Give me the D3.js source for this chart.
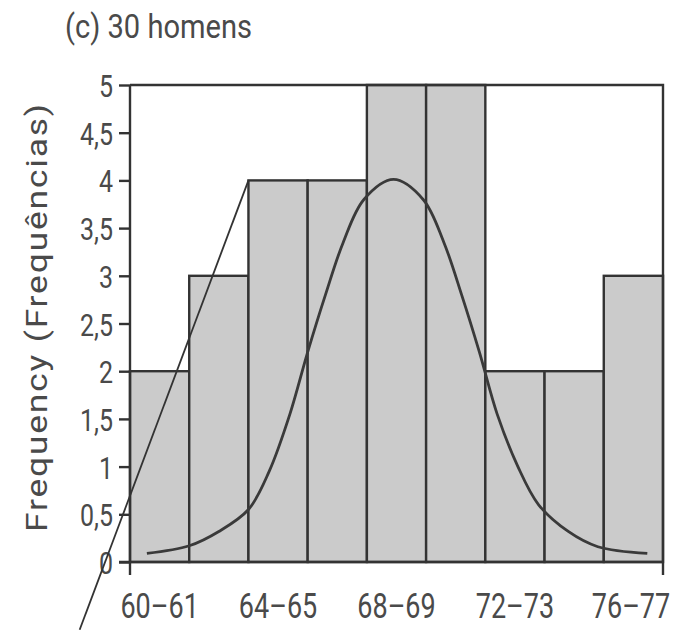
<!DOCTYPE html>
<html>
<head>
<meta charset="utf-8">
<script src="https://cdn.jsdelivr.net/npm/d3@7"></script>
<style>
  body { margin: 0; background: #fff; }
  svg text { font-family: Roboto, "DejaVu Sans", sans-serif; fill: #4a4a4a; }
</style>
</head>
<body>
<div id="chart"></div>
<script>
// bins of height (inches), 2 inches wide
const binStarts = [60, 62, 64, 66, 68, 70, 72, 74, 76];
const binLabels = ["60-61", "62-63", "64-65", "66-67", "68-69", "70-71", "72-73", "74-75", "76-77"];
const counts = [2, 3, 4, 4, 5, 5, 2, 2, 3];
const yTicks = [0, 0.5, 1, 1.5, 2, 2.5, 3, 3.5, 4, 4.5, 5];
// bell curve
const curveX = [60.57, 62.0, 63.0, 64.0, 64.7, 65.4, 66.0, 66.6, 67.2, 67.9, 68.9, 69.9, 70.6, 71.2, 71.8, 72.4, 73.1, 73.8, 74.8, 75.8, 77.47];
const curveY = [0.09, 0.17, 0.32, 0.55, 0.95, 1.55, 2.2, 2.8, 3.35, 3.8, 4.01, 3.8, 3.35, 2.8, 2.2, 1.55, 1.0, 0.6, 0.32, 0.16, 0.09];
// stray straight line from the corner of the 64-65 bar
const strayLine = [[64.0, 4.0], [58.3, -0.71]];

const width = 674, height = 630;
const svg = d3.select("#chart").append("svg")
    .attr("width", width)
    .attr("height", height);

const x = d3.scaleLinear().domain([60, 78]).range([130, 663]);
const y = d3.scaleLinear().domain([0, 5]).range([562, 85]);

// title
svg.append("text")
    .attr("x", 65)
    .attr("y", 38)
    .attr("textLength", 187)
    .attr("lengthAdjust", "spacingAndGlyphs")
    .style("font-size", "34px")
    .text("(c) 30 homens");

// y label
svg.append("text")
    .attr("transform", `translate(47, 317) rotate(-90)`)
    .attr("text-anchor", "middle")
    .attr("textLength", 430)
    .attr("lengthAdjust", "spacingAndGlyphs")
    .style("font-size", "29px")
    .style("letter-spacing", "1.5px")
    .text("Frequency (Frequências)");

// bars
svg.append("g")
    .selectAll("rect")
    .data(counts)
    .enter()
    .append("rect")
    .attr("x", (d, i) => x(binStarts[i]))
    .attr("y", d => y(d))
    .attr("width", (d, i) => x(binStarts[i] + 2) - x(binStarts[i]))
    .attr("height", d => y(0) - y(d))
    .style("fill", "#cbcbcb")
    .style("stroke", "#333")
    .style("stroke-width", 2.4);

// frame (top and right)
svg.append("path")
    .attr("d", `M${x(60)},${y(5)}H${x(78)}V${y(0)}`)
    .style("fill", "none")
    .style("stroke", "#333")
    .style("stroke-width", 2.4);

// y axis
const yAxis = d3.axisLeft(y)
    .tickValues(yTicks)
    .tickSize(11)
    .tickPadding(6)
    .tickFormat(d => String(d).replace(".", ","));
const gy = svg.append("g")
    .attr("transform", `translate(${x(60)},0)`)
    .call(yAxis);
gy.select(".domain").remove();
gy.append("line")
    .attr("y1", y(5)).attr("y2", y(0))
    .attr("stroke", "#333").attr("stroke-width", 2.4);
gy.selectAll(".tick line").attr("stroke", "#333").attr("stroke-width", 2.4);
gy.selectAll(".tick text")
    .style("font-size", "32px")
    .attr("x", -17 / 0.78)
    .attr("dy", "0.36em")
    .attr("transform", "scale(0.78,1)")
    .attr("fill", "#4a4a4a");

// x axis: line, end ticks, labels every other bin
svg.append("line")
    .attr("x1", x(60) - 11).attr("x2", x(78))
    .attr("y1", y(0)).attr("y2", y(0))
    .attr("stroke", "#333").attr("stroke-width", 2.4);
svg.append("g")
    .selectAll("line")
    .data([60, 78])
    .enter()
    .append("line")
    .attr("x1", d => x(d)).attr("x2", d => x(d))
    .attr("y1", y(0)).attr("y2", y(0) + 13)
    .attr("stroke", "#333").attr("stroke-width", 2.4);
svg.append("g")
    .selectAll("text")
    .data(binLabels.filter((d, i) => i % 2 === 0))
    .enter()
    .append("text")
    .attr("transform", (d, i) => `translate(${Math.min(x(binStarts[i * 2] + 1), 631)}, 618) scale(1, 1.27)`)
    .attr("text-anchor", "middle")
    .style("font-size", "27px")
    .text(d => d.replace("-", "–"));

// bell curve
const curvePts = curveX.map((d, i) => [x(d), y(curveY[i])]);
svg.append("path")
    .attr("d", d3.line().curve(d3.curveCatmullRom)(curvePts))
    .style("fill", "none")
    .style("stroke", "#3a3a3a")
    .style("stroke-width", 2.8);

// stray line
svg.append("path")
    .attr("d", d3.line()(strayLine.map(d => [x(d[0]), y(d[1])])))
    .style("fill", "none")
    .style("stroke", "#333")
    .style("stroke-width", 1.8);
</script>
</body>
</html>
